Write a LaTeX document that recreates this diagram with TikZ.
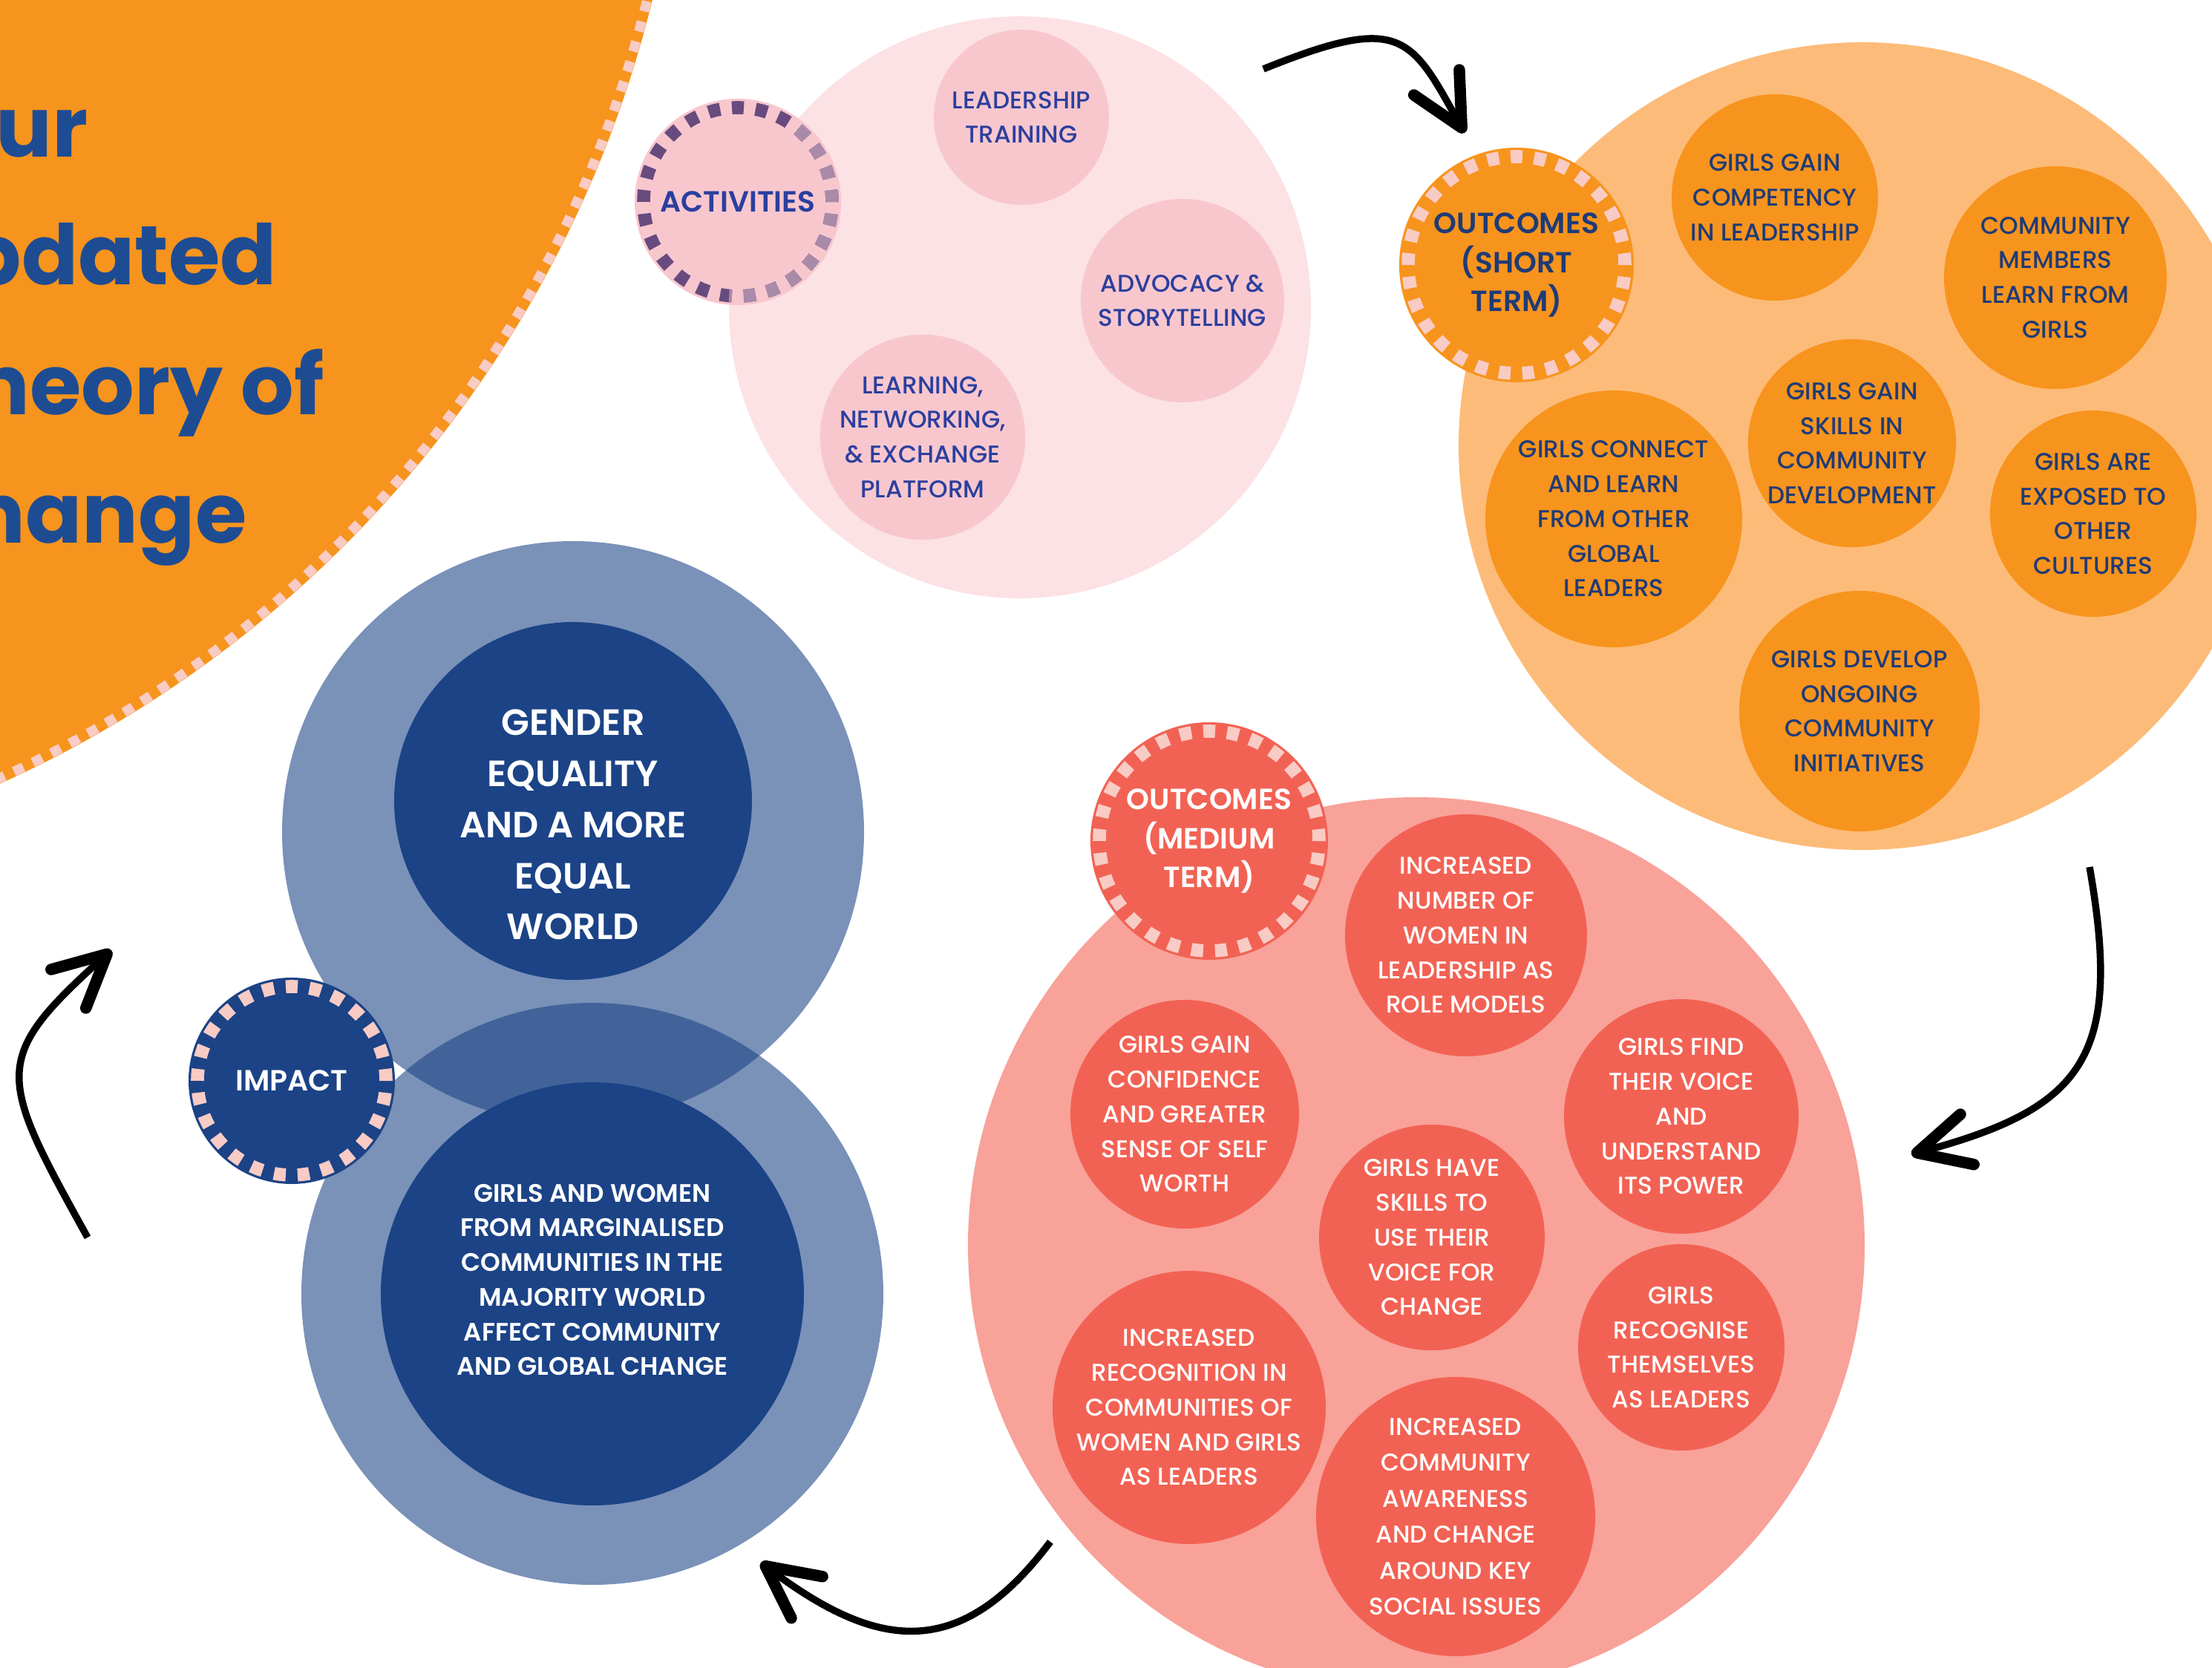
\documentclass[tikz,border=0pt]{standalone}
\usepackage{fontspec}
\setmainfont{Poppins}[UprightFont={* Medium},BoldFont={* SemiBold}]
\newfontfamily\titlefont{Poppins}[UprightFont={* Bold}]
\usetikzlibrary{arrows.meta}

\definecolor{tocorange}{HTML}{F7941D}
\definecolor{dashpink}{HTML}{F9CBC5}
\definecolor{titleblue}{HTML}{1E4C93}
\definecolor{actlight}{HTML}{FCE1E5}
\definecolor{actpink}{HTML}{F8C7CE}
\definecolor{actpurple}{HTML}{684B7E}
\definecolor{actfaded}{HTML}{A98BA9}
\definecolor{actblue}{HTML}{2B3F9E}
\definecolor{shortlight}{HTML}{FDBB79}
\definecolor{shortnavy}{HTML}{1F3B76}
\definecolor{impnavy}{HTML}{1B4386}
\definecolor{medlight}{HTML}{F8A299}
\definecolor{medcoral}{HTML}{F26254}

\tikzset{
  disc/.style={circle,inner sep=0pt},
  bubble/.style={circle,inner sep=0pt,align=center,font=\fontsize{9.3}{13.3}\selectfont},
  badge/.style={circle,inner sep=0pt,align=center,font=\bfseries\fontsize{11.2}{15}\selectfont},
  titletext/.style={anchor=base west,inner sep=0pt,text=titleblue,font=\titlefont\fontsize{32}{38}\selectfont},
  flow/.style={line width=2.7pt,-{Straight Barb[length=7mm,width=7mm,line width=4.4pt,round]}},
}

% dashed ring inside a badge: node, radius (cm), options, number of dashes
\newcommand{\dashring}[4]{%
  \pgfmathsetmacro{\dashlen}{pi*#2/#4}%
  \draw[line width=5pt,#3,dash pattern=on \dashlen cm off \dashlen cm] (#1.center) circle (#2cm);
}

\begin{document}
\begin{tikzpicture}
  \clip (0,0) rectangle (29.8,22.46);
  \fill[white] (0,0) rectangle (29.8,22.46);

  % title disc
  \node[disc,fill=tocorange,minimum size=31.38cm] (titledisc) at (-6.45,26.21) {};
  \dashring{titledisc}{15.62}{dashpink,line width=3.7pt}{350}
  \node[titletext] (ttlour) at (-0.06,20.34) {ur};
  \node[titletext] (ttlupd) at (-0.48,18.62) {pdated};
  \node[titletext] (ttltheory) at (-0.36,16.87) {heory of};
  \node[titletext] (ttlchange) at (-0.42,15.14) {hange};

  % activities
  \node[disc,fill=actlight,minimum size=7.84cm] (actdisc) at (13.74,18.32) {};
  \node[bubble,fill=actpink,text=actblue,minimum size=2.36cm] (leadtrain) at (13.76,20.88) {LEADERSHIP\\TRAINING};
  \node[bubble,fill=actpink,text=actblue,minimum size=2.74cm] (advocacy) at (15.93,18.41) {ADVOCACY \&\\STORYTELLING};
  \node[bubble,fill=actpink,text=actblue,minimum size=2.74cm] (learning) at (12.43,16.57) {LEARNING,\\NETWORKING,\\\& EXCHANGE\\PLATFORM};
  \node[badge,fill=actpink,text=actblue,minimum size=2.78cm] (activities) at (9.94,19.74) {ACTIVITIES};
  \dashring{activities}{1.27}{actpurple}{25}
  \begin{scope}
    \clip (actdisc.center) circle (3.92);
    \dashring{activities}{1.27}{actfaded}{25}
  \end{scope}

  % short term outcomes
  \node[disc,fill=shortlight,minimum size=10.88cm] (shortdisc) at (25.09,16.45) {};
  \node[bubble,fill=tocorange,text=shortnavy,minimum size=2.78cm] (competency) at (23.91,19.80) {GIRLS GAIN\\COMPETENCY\\IN LEADERSHIP};
  \node[bubble,fill=tocorange,text=shortnavy,minimum size=3.0cm] (commlearn) at (27.69,18.72) {COMMUNITY\\MEMBERS\\LEARN FROM\\GIRLS};
  \node[bubble,fill=tocorange,text=shortnavy,minimum size=2.78cm] (commskills) at (24.95,16.49) {GIRLS GAIN\\SKILLS IN\\COMMUNITY\\DEVELOPMENT};
  \node[bubble,fill=tocorange,text=shortnavy,minimum size=3.46cm] (connect) at (21.74,15.47) {GIRLS CONNECT\\AND LEARN\\FROM OTHER\\GLOBAL\\LEADERS};
  \node[bubble,fill=tocorange,text=shortnavy,minimum size=2.78cm] (cultures) at (28.20,15.54) {GIRLS ARE\\EXPOSED TO\\OTHER\\CULTURES};
  \node[bubble,fill=tocorange,text=shortnavy,minimum size=3.24cm] (initiatives) at (25.05,12.88) {GIRLS DEVELOP\\ONGOING\\COMMUNITY\\INITIATIVES};
  \node[badge,fill=tocorange,text=shortnavy,minimum size=3.16cm] (shortterm) at (20.43,18.89) {OUTCOMES\\(SHORT\\TERM)};
  \dashring{shortterm}{1.46}{dashpink}{29}

  % medium term outcomes
  \node[disc,fill=medlight,minimum size=12.08cm] (meddisc) at (19.08,5.68) {};
  \node[bubble,fill=medcoral,text=white,minimum size=3.26cm] (rolemodels) at (19.75,9.86) {INCREASED\\NUMBER OF\\WOMEN IN\\LEADERSHIP AS\\ROLE MODELS};
  \node[bubble,fill=medcoral,text=white,minimum size=2.96cm] (confidence) at (15.96,7.45) {GIRLS GAIN\\CONFIDENCE\\AND GREATER\\SENSE OF SELF\\WORTH};
  \node[bubble,fill=medcoral,text=white,minimum size=3.16cm] (findvoice) at (22.65,7.42) {GIRLS FIND\\THEIR VOICE\\AND\\UNDERSTAND\\ITS POWER};
  \node[bubble,fill=medcoral,text=white,minimum size=3.04cm] (useskills) at (19.29,5.79) {GIRLS HAVE\\SKILLS TO\\USE THEIR\\VOICE FOR\\CHANGE};
  \node[bubble,fill=medcoral,text=white,minimum size=2.78cm] (recognise) at (22.65,4.31) {GIRLS\\RECOGNISE\\THEMSELVES\\AS LEADERS};
  \node[bubble,fill=medcoral,text=white,minimum size=3.68cm] (recognition) at (16.02,3.50) {INCREASED\\RECOGNITION IN\\COMMUNITIES OF\\WOMEN AND GIRLS\\AS LEADERS};
  \node[bubble,fill=medcoral,text=white,minimum size=3.76cm,font=\fontsize{9.3}{13.8}\selectfont] (awareness) at (19.61,2.03) {INCREASED\\COMMUNITY\\AWARENESS\\AND CHANGE\\AROUND KEY\\SOCIAL ISSUES};
  \node[badge,fill=medcoral,text=white,minimum size=3.2cm] (medterm) at (16.29,11.13) {OUTCOMES\\(MEDIUM\\TERM)};
  \dashring{medterm}{1.48}{dashpink}{29}

  % impact
  \node[disc,fill=impnavy,fill opacity=0.58,minimum size=7.84cm] (impupper) at (7.72,11.25) {};
  \node[disc,fill=impnavy,fill opacity=0.58,minimum size=7.84cm] (implower) at (7.98,5.03) {};
  \node[disc,fill=impnavy,minimum size=4.82cm] (equality) at (7.72,11.67) {};
  \node[bubble,text=white,font=\bfseries\fontsize{14}{19.6}\selectfont] (equalitytext) at ([yshift=-0.32cm]equality.center) {GENDER\\EQUALITY\\AND A MORE\\EQUAL\\WORLD};
  \node[disc,fill=impnavy,minimum size=5.7cm] (girlswomen) at (7.98,5.03) {};
  \node[bubble,text=white,font=\bfseries\fontsize{9.7}{13.3}\selectfont] (girlswomentext) at ([yshift=0.19cm]girlswomen.center) {GIRLS AND WOMEN\\FROM MARGINALISED\\COMMUNITIES IN THE\\MAJORITY WORLD\\AFFECT COMMUNITY\\AND GLOBAL CHANGE};
  \node[badge,fill=impnavy,text=white,minimum size=2.78cm] (impact) at (3.93,7.90) {IMPACT};
  \dashring{impact}{1.27}{dashpink}{25}

  % arrows between the stages
  \coordinate (a1s) at (17.02,21.53);
  \coordinate (a1e) at (19.73,20.67);
  \coordinate (a2s) at (28.15,10.78);
  \coordinate (a2e) at (25.75,6.91);
  \coordinate (a3s) at (14.15,1.69);
  \coordinate (a3e) at (10.25,1.41);
  \coordinate (a4s) at (1.18,5.79);
  \coordinate (a4e) at (1.50,9.66);
  \draw[flow] (a1s) .. controls +(22:2.0) and +(119:1.5) .. (a1e);
  \draw[flow] (a2s) .. controls +(280:2.6) and +(15:2.4) .. (a2e);
  \draw[flow] (a3s) .. controls +(233:2.0) and +(323:2.0) .. (a3e);
  \draw[flow] (a4s) .. controls +(119:2.5) and +(222:2.2) .. (a4e);
\end{tikzpicture}
\end{document}
